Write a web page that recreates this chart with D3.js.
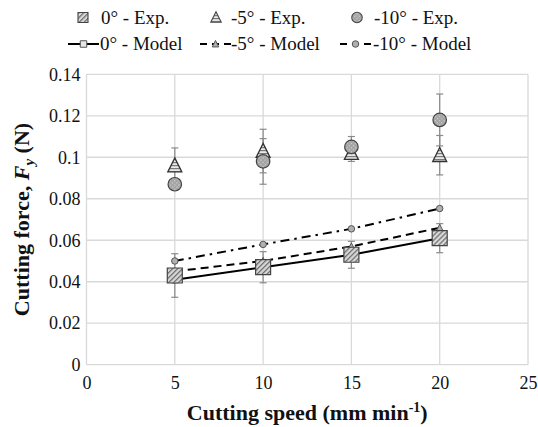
<!DOCTYPE html>
<html>
<head>
<meta charset="utf-8">
<script src="https://cdn.jsdelivr.net/npm/d3@7"></script>
<style>
  html, body { margin: 0; padding: 0; background: #fff; }
  svg { display: block; }
  svg text { font-family: "Liberation Serif", "Times New Roman", "DejaVu Serif", serif !important; }
</style>
</head>
<body>
<svg id="chart" width="538" height="427"></svg>
<script>
// Cutting speed (mm/min)
const speeds = [5, 10, 15, 20];

// Measured cutting force Fy (N) with error bar half-widths
const exp0 = [0.043, 0.047, 0.053, 0.061];
const exp0Err = [0.0105, 0.0075, 0.0065, 0.007];
const exp5 = [0.096, 0.103, 0.102, 0.101];
const exp5Err = [0.0085, 0.0105, 0.004, 0.0095];
const exp10 = [0.087, 0.098, 0.105, 0.118];
const exp10Err = [0.002, 0.011, 0.005, 0.0125];

// Model predictions (N)
const model0 = [0.041, 0.047, 0.053, 0.061];
const model5 = [0.045, 0.050, 0.057, 0.066];
const model10 = [0.050, 0.058, 0.0655, 0.0753];

// Axis ticks
const xTicks = [0, 5, 10, 15, 20, 25];
const yTicks = [0, 0.02, 0.04, 0.06, 0.08, 0.1, 0.12, 0.14];

// Legend labels
const expLabels = ["0° - Exp.", "-5° - Exp.", "-10° - Exp."];
const modelLabels = ["0° - Model", "-5° - Model", "-10° - Model"];

const svg = d3.select("#chart");
const plotLeft = 86.5, plotRight = 528, plotTop = 74.3, plotBottom = 364.7;

const x = d3.scaleLinear().domain([0, 25]).range([plotLeft, plotRight]);
const y = d3.scaleLinear().domain([0, 0.14]).range([plotBottom, plotTop]);

// Fill patterns for the markers
const defs = svg.append("defs");
const hatch = defs.append("pattern").attr("id", "hatch").attr("patternUnits", "userSpaceOnUse")
  .attr("width", 3.5).attr("height", 3.5).attr("patternTransform", "rotate(45)");
hatch.append("rect").attr("width", 3.5).attr("height", 3.5).attr("fill", "#dadada");
hatch.append("rect").attr("width", 1.3).attr("height", 3.5).attr("fill", "#707070");

const stripes = defs.append("pattern").attr("id", "stripes").attr("patternUnits", "userSpaceOnUse")
  .attr("width", 4).attr("height", 3);
stripes.append("rect").attr("width", 4).attr("height", 3).attr("fill", "#e8e8e8");
stripes.append("rect").attr("width", 4).attr("height", 1.2).attr("fill", "#7a7a7a");

const dots = defs.append("pattern").attr("id", "dots").attr("patternUnits", "userSpaceOnUse")
  .attr("width", 3).attr("height", 3).attr("patternTransform", "rotate(45)");
dots.append("rect").attr("width", 3).attr("height", 3).attr("fill", "#a4a4a4");
dots.append("rect").attr("width", 1.2).attr("height", 1.2).attr("fill", "#d4d4d4");

// Gridlines
const grid = svg.append("g").attr("stroke", "#d9d9d9").attr("stroke-width", 1.3);
grid.selectAll("line.v").data(xTicks).join("line").attr("class", "v")
  .attr("x1", d => x(d)).attr("x2", d => x(d)).attr("y1", plotTop).attr("y2", plotBottom);
grid.selectAll("line.h").data(yTicks).join("line").attr("class", "h")
  .attr("y1", d => y(d)).attr("y2", d => y(d)).attr("x1", plotLeft).attr("x2", plotRight);

// Axes
const xAxis = svg.append("g").attr("transform", `translate(0,${plotBottom})`)
  .call(d3.axisBottom(x).tickValues(xTicks).tickSize(0).tickPadding(12).tickFormat(d3.format("d")));
const yAxis = svg.append("g").attr("transform", `translate(${plotLeft},0)`)
  .call(d3.axisLeft(y).tickValues(yTicks).tickSize(0).tickPadding(6).tickFormat(d => d === 0 ? "0" : String(+d.toFixed(2))));
[xAxis, yAxis].forEach(a => {
  a.attr("font-family", null);
  a.select(".domain").remove();
  a.selectAll("text").attr("font-size", 18).attr("fill", "#111");
});

// Error bars
function errorBars(vals, errs) {
  const g = svg.append("g").attr("stroke", "#8a8a8a").attr("stroke-width", 1.2);
  speeds.forEach((s, i) => {
    const cx = x(s), y1 = y(vals[i] + errs[i]), y2 = y(vals[i] - errs[i]);
    g.append("line").attr("x1", cx).attr("x2", cx).attr("y1", y1).attr("y2", y2);
    g.append("line").attr("x1", cx - 3.5).attr("x2", cx + 3.5).attr("y1", y1).attr("y2", y1);
    g.append("line").attr("x1", cx - 3.5).attr("x2", cx + 3.5).attr("y1", y2).attr("y2", y2);
  });
}
errorBars(exp0, exp0Err);
errorBars(exp5, exp5Err);
errorBars(exp10, exp10Err);

// Marker shapes
const sym = {
  square: d3.symbol().type(d3.symbolSquare),
  circle: d3.symbol().type(d3.symbolCircle)
};
function marker(g, shape, cx, cy, size, fill, stroke, sw) {
  const path = shape === "triangle"
    ? `M${cx},${cy - size * 0.55}L${cx + size * 0.5},${cy + size * 0.45}L${cx - size * 0.5},${cy + size * 0.45}Z`
    : sym[shape].size(shape === "square" ? size * size : Math.PI * size * size / 4)();
  const p = g.append("path").attr("d", path).attr("fill", fill).attr("stroke", stroke).attr("stroke-width", sw);
  if (shape !== "triangle") p.attr("transform", `translate(${cx},${cy})`);
  return p;
}

// Model lines
const lineGen = d3.line().x((d, i) => x(speeds[i])).y(d => y(d));
const models = [
  { vals: model0, dash: null, shape: "square" },
  { vals: model5, dash: "8,5", shape: "triangle" },
  { vals: model10, dash: "9,5,2.5,5", shape: "circle" }
];
models.forEach(m => {
  svg.append("path").datum(m.vals).attr("d", lineGen).attr("fill", "none")
    .attr("stroke", "#000").attr("stroke-width", 2).attr("stroke-dasharray", m.dash);
});
const mg = svg.append("g");
models.forEach(m => {
  m.vals.forEach((v, i) => {
    marker(mg, m.shape, x(speeds[i]), y(v), 6.5, m.shape === "square" ? "#e6e6e6" : "#b0b0b0", "#555", 1);
  });
});

// Experimental markers
const eg = svg.append("g");
exp0.forEach((v, i) => marker(eg, "square", x(speeds[i]), y(v), 15, "url(#hatch)", "#444", 1.2));
exp5.forEach((v, i) => marker(eg, "triangle", x(speeds[i]), y(v), 14, "url(#stripes)", "#333", 1.3));
exp10.forEach((v, i) => marker(eg, "circle", x(speeds[i]), y(v), 13.5, "url(#dots)", "#444", 1.2));

// Axis titles
svg.append("text").attr("x", (plotLeft + plotRight) / 2).attr("y", 420).attr("text-anchor", "middle")
  .attr("font-size", 22).attr("font-weight", "bold").attr("fill", "#111")
  .call(t => {
    t.append("tspan").text("Cutting speed (mm min");
    t.append("tspan").attr("font-size", 14).attr("dy", -8).text("-1");
    t.append("tspan").attr("dy", 8).text(")");
  });
svg.append("text").attr("transform", `translate(29,${(plotTop + plotBottom) / 2}) rotate(-90)`)
  .attr("text-anchor", "middle").attr("font-size", 22).attr("font-weight", "bold").attr("fill", "#111")
  .call(t => {
    t.append("tspan").text("Cutting force, ");
    t.append("tspan").attr("font-style", "italic").text("F");
    t.append("tspan").attr("font-style", "italic").attr("font-size", 15).attr("dy", 5).text("y");
    t.append("tspan").attr("dy", -5).text(" (N)");
  });

// Legend
const lg = svg.append("g").attr("font-size", 19).attr("fill", "#111");
const expCols = [{ sx: 83, tx: 101 }, { sx: 216, tx: 231 }, { sx: 357, tx: 374 }];
const expStyles = [
  { shape: "square", size: 10, fill: "url(#hatch)" },
  { shape: "triangle", size: 10.5, fill: "url(#stripes)" },
  { shape: "circle", size: 10.5, fill: "url(#dots)" }
];
expLabels.forEach((label, i) => {
  marker(lg, expStyles[i].shape, expCols[i].sx, 17.5, expStyles[i].size, expStyles[i].fill, "#444", 1.1);
  lg.append("text").attr("x", expCols[i].tx).attr("y", 24).text(label);
});
const modelCols = [{ x1: 68, x2: 99, tx: 100 }, { x1: 200, x2: 231, tx: 231 }, { x1: 340, x2: 371, tx: 373 }];
modelLabels.forEach((label, i) => {
  const c = modelCols[i];
  lg.append("line").attr("x1", c.x1).attr("x2", c.x2).attr("y1", 44).attr("y2", 44)
    .attr("stroke", "#000").attr("stroke-width", 2).attr("stroke-dasharray", models[i].dash ? "7,5" : null);
  marker(lg, models[i].shape, (c.x1 + c.x2) / 2, 44, 6.5, models[i].shape === "square" ? "#e6e6e6" : "#b0b0b0", "#555", 1);
  lg.append("text").attr("x", c.tx).attr("y", 50).text(label);
});
</script>
</body>
</html>
